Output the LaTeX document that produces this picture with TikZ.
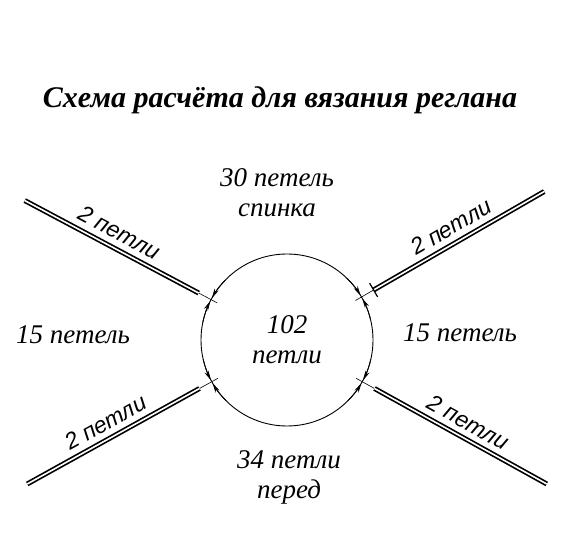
\documentclass[tikz,border=0pt]{standalone}
\usepackage{fontspec}
\setmainfont{Liberation Serif}
\setsansfont{Liberation Sans}
\usetikzlibrary{arrows.meta}

\begin{document}
\begin{tikzpicture}[x=1pt,y=1pt,
  raglan/.style={line width=1.7pt,double,double distance=1.6pt},
  stem/.style={line width=0.6pt},
  dimarrow/.style={line width=0.8pt,-{Stealth[length=10pt,width=4.5pt]}},
  lbl/.style={font=\sffamily\itshape\fontsize{23}{23}\selectfont,inner sep=2pt},
  txt/.style={font=\itshape\fontsize{27}{30}\selectfont,align=center}]
\useasboundingbox (0,0) rectangle (572,537);
\node[font=\bfseries\itshape\fontsize{30}{32}\selectfont] (title) at (280,437) {Схема расчёта для вязания реглана};
\node[draw,circle,minimum size=172pt,inner sep=0pt,line width=0.9pt,txt] (ring) at (287,197) {102\\петли};
\node[txt] (back) at (277,344) {30 петель\\спинка};
\node[txt] (front) at (289,60) {34 петли\\перед};
\node[txt] (sleeveL) at (73,202) {15 петель};
\node[txt] (sleeveR) at (460,204) {15 петель};
% raglan lines
\foreach \a/\n in {152/ul,30/ur,209/ll,331/lr} {
   \path (ring.center) ++(\a:297) coordinate (\n Out);
   \path (ring.center) ++(\a:100) coordinate (\n In);
   \path (ring.center) ++(\a:79) coordinate (\n Rim);
   \draw[stem] (\n In) -- (\n Rim);
   \draw[dimarrow] (ring.center) ++({\a+16}:86) arc[start angle={\a+16},end angle={\a+1},radius=86];
   \draw[dimarrow] (ring.center) ++({\a-16}:86) arc[start angle={\a-16},end angle={\a-1},radius=86];
}
\draw[raglan] (ulOut) -- node[sloped,above=5pt,pos=0.5,lbl] {2 петли} (ulIn);
\draw[raglan] (llOut) -- node[sloped,above=5pt,pos=0.5,lbl] {2 петли} (llIn);
\draw[raglan] (urIn) -- node[sloped,above=5pt,pos=0.5,lbl] {2 петли} (urOut);
\draw[raglan] (lrIn) -- node[sloped,above=5pt,pos=0.5,lbl] {2 петли} (lrOut);
\draw[line width=1.2pt] (urIn) ++(120:8) -- ++(300:16);
\end{tikzpicture}
\end{document}
